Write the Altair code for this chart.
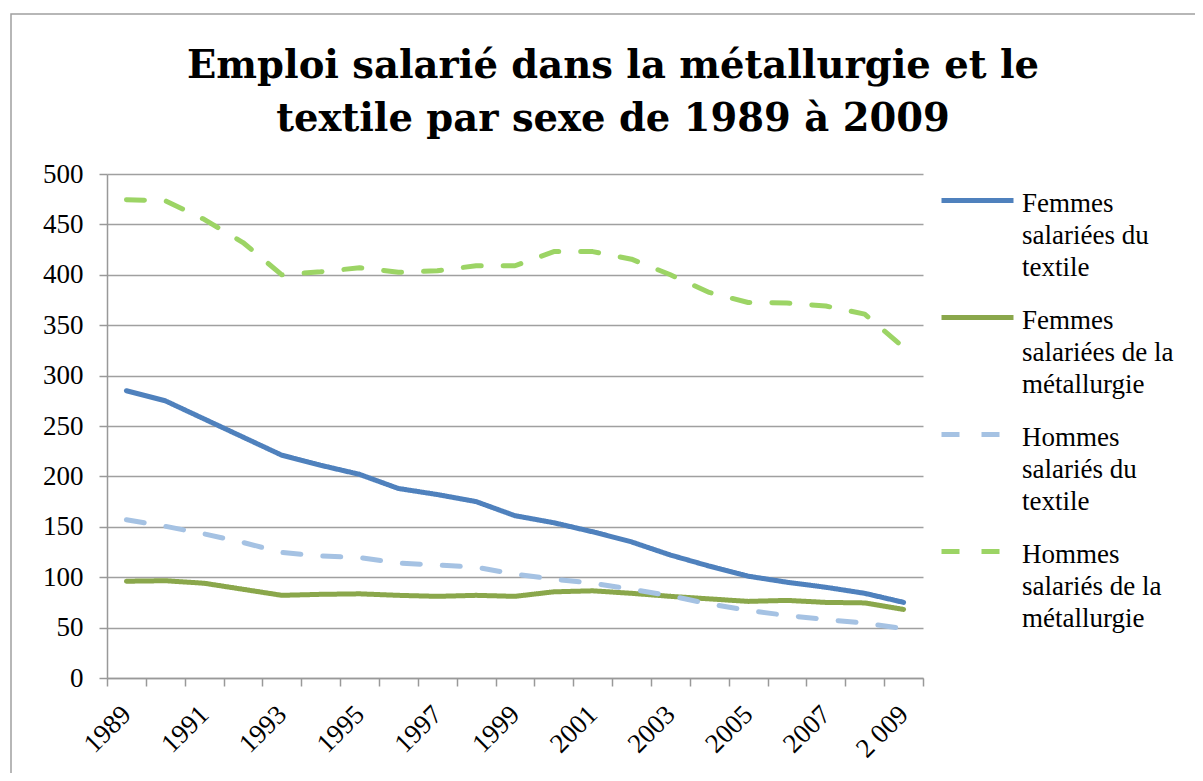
import altair as alt
import pandas as pd

years = list(range(1989, 2010))
femmes_textile = [285, 275, 257, 239, 221, 211, 202, 188, 182, 175, 161, 154, 145, 135, 122, 111, 101, 95, 90, 84, 75]
femmes_metal = [96, 96.5, 94, 88, 82, 83, 83.5, 82, 81, 82, 81, 85.5, 86.5, 84, 81, 78.5, 76, 77, 75, 74.5, 68]
hommes_textile = [157, 150.5, 143, 134.5, 124.5, 121, 119.5, 114, 112, 110, 103, 98, 94, 88, 81.5, 73.5, 67, 62, 58, 54.5, 49]
hommes_metal = [474.5, 473.5, 455, 432, 400, 403, 407, 402.5, 404, 409, 409, 423, 423, 415.5, 400, 382.5, 372.5, 372, 369, 361, 328]

series_names = [
    "Femmes|salariées du|textile",
    "Femmes|salariées de la|métallurgie",
    "Hommes|salariés du|textile",
    "Hommes|salariés de la|métallurgie",
]
series_colors = ["#4F81BD", "#8AA74B", "#A5C2E3", "#9CD465"]
series_dash = [[1, 0], [1, 0], [18, 22], [18, 22]]

label_years = list(range(1989, 2010, 2))
tick_labels = ["1989", "1991", "1993", "1995", "1997", "1999", "2001", "2003", "2005", "2007", "2 009"]
y_ticks = list(range(0, 501, 50))

title_lines = ["Emploi salarié dans la métallurgie et le", "textile par sexe de 1989 à 2009"]

rows = []
for name, vals in zip(series_names, [femmes_textile, femmes_metal, hommes_textile, hommes_metal]):
    for yr, v in zip(years, vals):
        rows.append({"annee": yr, "valeur": v, "serie": name})
df = pd.DataFrame(rows)

FONT = "Liberation Serif"
TITLE_FONT = "DejaVu Serif"

boundaries = [y - 0.5 for y in years] + [years[-1] + 0.5]
x_values = sorted(boundaries + label_years)
label_expr = (
    "[" + ",".join("'" + t + "'" for t in tick_labels) + "][indexof(["
    + ",".join(str(y) for y in label_years) + "], datum.value)] || ''"
)

lines = alt.Chart(df).mark_line(strokeWidth=5, strokeCap="round", strokeJoin="round").encode(
    x=alt.X(
        "annee:Q",
        scale=alt.Scale(domain=[years[0] - 0.5, years[-1] + 0.5], nice=False, zero=False),
        axis=alt.Axis(
            title=None,
            values=x_values,
            labelExpr=label_expr,
            grid=False,
            tickSize=8,
            tickColor="#999999",
            tickWidth=1.5,
            tickOpacity=alt.condition("datum.value % 1 == 0", alt.value(0), alt.value(1)),
            domainColor="#999999",
            domainWidth=1.5,
            labelAngle=-45,
            labelAlign="right",
            labelBaseline="middle",
            labelPadding=24,
            labelFont=FONT,
            labelFontSize=27,
            labelColor="#000000",
            labelOverlap=False,
            labelFlush=False,
            labelBound=False,
        ),
    ),
    y=alt.Y(
        "valeur:Q",
        scale=alt.Scale(domain=[0, 500], nice=False),
        axis=alt.Axis(
            title=None,
            values=y_ticks,
            grid=True,
            gridColor="#a0a0a0",
            gridWidth=1.5,
            tickSize=8,
            tickColor="#999999",
            tickWidth=1.5,
            domainColor="#999999",
            domainWidth=1.5,
            labelPadding=16,
            labelFont=FONT,
            labelFontSize=27,
            labelColor="#000000",
        ),
    ),
    color=alt.Color(
        "serie:N",
        scale=alt.Scale(domain=series_names, range=series_colors),
        sort=series_names,
        legend=alt.Legend(
            title=None,
            orient="none",
            legendX=856,
            legendY=2.5,
            symbolType="M-3,0.8H3",
            symbolSize=576,
            symbolStrokeWidth=5,
            labelExpr="split(datum.label, '|')",
            labelFont=FONT,
            labelFontSize=27,
            labelColor="#000000",
            labelLimit=400,
            labelOffset=30,
            labelBaseline="top",
            rowPadding=12,
            padding=0,
        ),
    ),
    strokeDash=alt.StrokeDash(
        "serie:N",
        scale=alt.Scale(domain=series_names, range=series_dash),
        sort=series_names,
        legend=None,
    ),
)

frame = alt.Chart(alt.Data(values=[{}])).mark_rect(
    filled=False, stroke="#a0a0a0", strokeWidth=1.5
).encode(
    x=alt.value(-96), x2=alt.value(1300), y=alt.value(-160), y2=alt.value(900)
)

title = alt.Chart(alt.Data(values=[{}])).mark_text(
    font=TITLE_FONT,
    fontSize=38.5,
    fontWeight="bold",
    color="#000000",
    align="center",
    baseline="alphabetic",
    lineHeight=53,
).encode(
    x=alt.value(506), y=alt.value(-96), text=alt.value(title_lines)
)

chart = alt.layer(frame, title, lines).properties(
    width=816,
    height=504,
    padding={"left": 99, "top": 166, "right": 272, "bottom": 95},
    autosize=alt.AutoSizeParams(type="none"),
).configure(
    view=alt.ViewConfig(stroke=None),
    style={"guide-label": {"lineHeight": 32}},
)

chart.save("out.html", embed_options={"renderer": "svg", "actions": False})
